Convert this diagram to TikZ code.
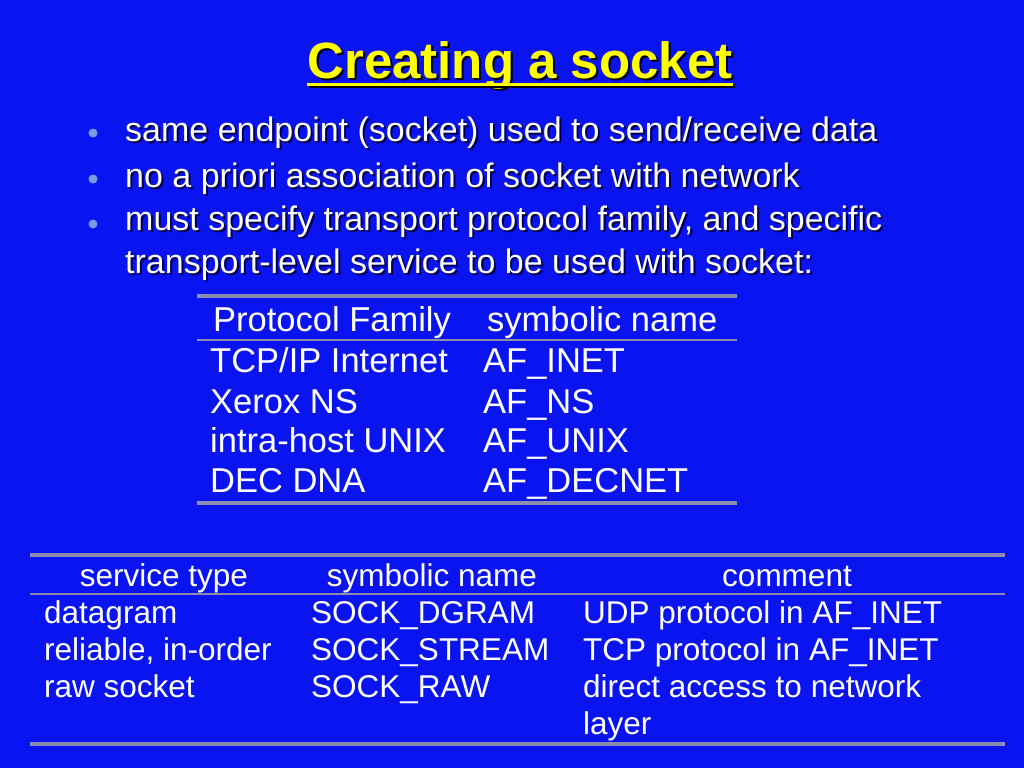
\documentclass[tikz,border=0pt]{standalone}
\usepackage{fontspec}
\setmainfont{Liberation Sans}
\definecolor{slideblue}{RGB}{10,20,240}
\definecolor{titleyellow}{RGB}{255,255,0}
\definecolor{rulegray}{RGB}{140,140,175}
\definecolor{dotblue}{RGB}{125,155,235}
\tikzset{
  titletext/.style={anchor=base, inner sep=0pt, font=\fontsize{51}{60}\selectfont\bfseries},
  bodytext/.style={anchor=base west, inner sep=0pt, text=white, font=\fontsize{34}{40}\selectfont},
  shadetext/.style={anchor=base west, inner sep=0pt, text=black!70!blue, font=\fontsize{34}{40}\selectfont},
  tabtext/.style={anchor=base west, inner sep=0pt, text=white, font=\fontsize{34.5}{40}\selectfont},
  smalltext/.style={anchor=base west, inner sep=0pt, text=white, font=\fontsize{31.5}{37}\selectfont},
  thickrule/.style={draw=rulegray, line width=4pt},
  thinrule/.style={draw=rulegray, line width=2pt},
  bulletdot/.style={fill=dotblue, draw=none},
}
\begin{document}
\begin{tikzpicture}[x=1pt,y=-1pt]
\fill[slideblue] (0,0) rectangle (1024,768);
% title
\node[titletext, text=black] (titleshade) at (522,80) {Creating a socket};
\node[titletext, text=titleyellow] (title) at (520,78) {Creating a socket};
\draw[black, line width=3pt] ([yshift=-6pt]titleshade.base west) -- ([yshift=-6pt]titleshade.base east);
\draw[titleyellow, line width=3pt] ([yshift=-6pt]title.base west) -- ([yshift=-6pt]title.base east);
% bullets
\fill[bulletdot] (93,133) circle (4.5);
\fill[bulletdot] (93,179) circle (4.5);
\fill[bulletdot] (93,224) circle (4.5);
\node[shadetext] at (127,143) {same endpoint (socket) used to send/receive data};
\node[shadetext] at (127,189) {no a priori association of socket with network};
\node[shadetext] at (127,232) {must specify transport protocol family, and specific};
\node[shadetext] at (127,275) {transport-level service to be used with socket:};
\node[bodytext] (itemA) at (125,141) {same endpoint (socket) used to send/receive data};
\node[bodytext] (itemB) at (125,187) {no a priori association of socket with network};
\node[bodytext] (itemC) at (125,230) {must specify transport protocol family, and specific};
\node[bodytext] (itemD) at (125,273) {transport-level service to be used with socket:};
% protocol family table
\coordinate (famTL) at (197,296);
\coordinate (famTR) at (737,296);
\coordinate (famML) at (197,340);
\coordinate (famMR) at (737,340);
\coordinate (famBL) at (197,503);
\coordinate (famBR) at (737,503);
\draw[thickrule] (famTL) -- (famTR);
\draw[thinrule] (famML) -- (famMR);
\draw[thickrule] (famBL) -- (famBR);
\node[tabtext] (famHead) at (213,331) {Protocol Family};
\node[tabtext] (symHead) at (487,331) {symbolic name};
\node[tabtext] (famA) at (210,372) {TCP/IP Internet};
\node[tabtext] (famB) at (210,413) {Xerox NS};
\node[tabtext] (famC) at (210,452) {intra-host UNIX};
\node[tabtext] (famD) at (210,492) {DEC DNA};
\node[tabtext] (symA) at (483,372) {AF\_INET};
\node[tabtext] (symB) at (483,413) {AF\_NS};
\node[tabtext] (symC) at (483,452) {AF\_UNIX};
\node[tabtext] (symD) at (483,492) {AF\_DECNET};
% service type table
\coordinate (svcTL) at (30,555);
\coordinate (svcTR) at (1005,555);
\coordinate (svcML) at (30,594);
\coordinate (svcMR) at (1005,594);
\coordinate (svcBL) at (30,744);
\coordinate (svcBR) at (1005,744);
\draw[thickrule] (svcTL) -- (svcTR);
\draw[thinrule] (svcML) -- (svcMR);
\draw[thickrule] (svcBL) -- (svcBR);
\node[smalltext, anchor=base] (svcHead) at (164,586) {service type};
\node[smalltext, anchor=base] (nameHead) at (432,586) {symbolic name};
\node[smalltext, anchor=base] (noteHead) at (787,586) {comment};
\node[smalltext] (svcA) at (44,623) {datagram};
\node[smalltext] (svcB) at (44,660) {reliable, in-order};
\node[smalltext] (svcC) at (44,697) {raw socket};
\node[smalltext] (nameA) at (311,623) {SOCK\_DGRAM};
\node[smalltext] (nameB) at (311,660) {SOCK\_STREAM};
\node[smalltext] (nameC) at (311,697) {SOCK\_RAW};
\node[smalltext] (noteA) at (583,623) {UDP protocol in AF\_INET};
\node[smalltext] (noteB) at (583,660) {TCP protocol in AF\_INET};
\node[smalltext] (noteC) at (583,697) {direct access to network};
\node[smalltext] (noteD) at (583,734) {layer};
\end{tikzpicture}
\end{document}
